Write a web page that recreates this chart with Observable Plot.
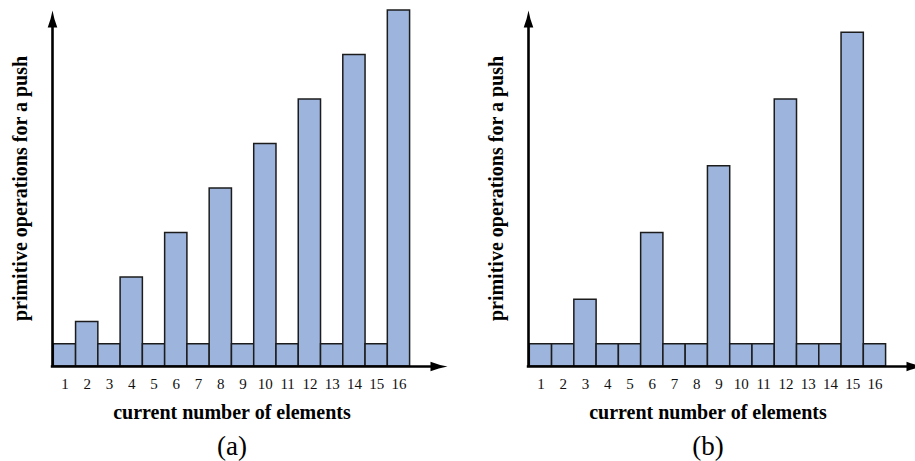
<!DOCTYPE html>
<html>
<head>
<meta charset="utf-8">
<script src="https://cdn.jsdelivr.net/npm/d3@7"></script>
<script src="https://cdn.jsdelivr.net/npm/@observablehq/plot@0.6"></script>
<style>
  html, body { margin: 0; padding: 0; background: #fff; overflow: hidden; }
  #wrap { position: relative; width: 915px; height: 461px; overflow: hidden; }
  #wrap > svg { position: absolute; top: 0; }
  #wrap svg text { font-family: 'Liberation Serif', 'Times New Roman', Times, serif; }
</style>
</head>
<body>
<div id="wrap"></div>
<script>
// ---- data ----
const elements = [1, 2, 3, 4, 5, 6, 7, 8, 9, 10, 11, 12, 13, 14, 15, 16];
const opsA = [1, 2, 1, 4, 1, 6, 1, 8, 1, 10, 1, 12, 1, 14, 1, 16];
const opsB = [1, 1, 3, 1, 1, 6, 1, 1, 9, 1, 1, 12, 1, 1, 15, 1];
const xTickLabels = [1, 2, 3, 4, 5, 6, 7, 8, 9, 10, 11, 12, 13, 14, 15, 16];
const captions = ["(a)", "(b)"];
const xLabel = "current number of elements";
const yLabel = "primitive operations for a push";

// ---- styling ----
const serif = "'Liberation Serif', 'Times New Roman', Times, serif";
const barFill = "#9db4dc";
const barStroke = "#1c1c1c";
const xMax = 18.18;

const arrowUp = {
  draw(ctx) {
    ctx.moveTo(0, 0);
    ctx.quadraticCurveTo(1.6, 9, 4.8, 17);
    ctx.lineTo(-4.8, 17);
    ctx.quadraticCurveTo(-1.6, 9, 0, 0);
    ctx.closePath();
  }
};
const arrowRight = {
  draw(ctx) {
    ctx.moveTo(0, 0);
    ctx.quadraticCurveTo(-9, 1.6, -17, 4.8);
    ctx.lineTo(-17, -4.8);
    ctx.quadraticCurveTo(-9, -1.6, 0, 0);
    ctx.closePath();
  }
};

function panel(values, caption) {
  const data = elements.map((n, i) => ({n, v: values[i]}));
  return Plot.plot({
    width: 457,
    height: 461,
    marginLeft: 53.3,
    marginRight: 10,
    marginTop: 10,
    marginBottom: 95,
    style: {fontFamily: serif, fontSize: "15px", color: "#111", background: "transparent"},
    x: {type: "linear", domain: [0.5, xMax], axis: null},
    y: {domain: [0, 16], axis: null},
    marks: [
      Plot.rectY(data, {x1: d => d.n - 0.5, x2: d => d.n + 0.5, y: "v",
        fill: barFill, stroke: barStroke, strokeWidth: 1.5}),
      Plot.ruleX([0.5], {y1: 0, y2: 15.5, dx: -1.3, stroke: "#000", strokeWidth: 2.6}),
      Plot.ruleY([0], {x1: 0.5, x2: xMax - 0.3, dx: -2.5, stroke: "#000", strokeWidth: 2.6}),
      Plot.dot([0], {x: () => 0.5, y: () => 16, dx: -1.3, symbol: arrowUp, fill: "#000", stroke: "none"}),
      Plot.dot([0], {x: () => xMax, y: () => 0, symbol: arrowRight, fill: "#000", stroke: "none"}),
      Plot.text(xTickLabels, {x: d => d, y: () => 0, dy: 17.5, text: d => String(d),
        fontFamily: serif, fontSize: 15, fill: "#111"}),
      Plot.text([xLabel], {x: () => 8.5, y: () => 0, dy: 46, text: d => d,
        fontFamily: serif, fontWeight: "bold", fontSize: 20, fill: "#000"}),
      Plot.text([yLabel], {x: () => 0.5, y: () => 8, dx: -33.5, rotate: -90, text: d => d,
        fontFamily: serif, fontWeight: "bold", fontSize: 20, fill: "#000"}),
      Plot.text([caption], {x: () => 8.5, y: () => 0, dy: 80, text: d => d,
        fontFamily: serif, fontSize: 27, fill: "#000"})
    ]
  });
}

const wrap = document.getElementById("wrap");
const a = panel(opsA, captions[0]);
a.style.left = "0px";
const b = panel(opsB, captions[1]);
b.style.left = "476px";
wrap.appendChild(a);
wrap.appendChild(b);
</script>
</body>
</html>
